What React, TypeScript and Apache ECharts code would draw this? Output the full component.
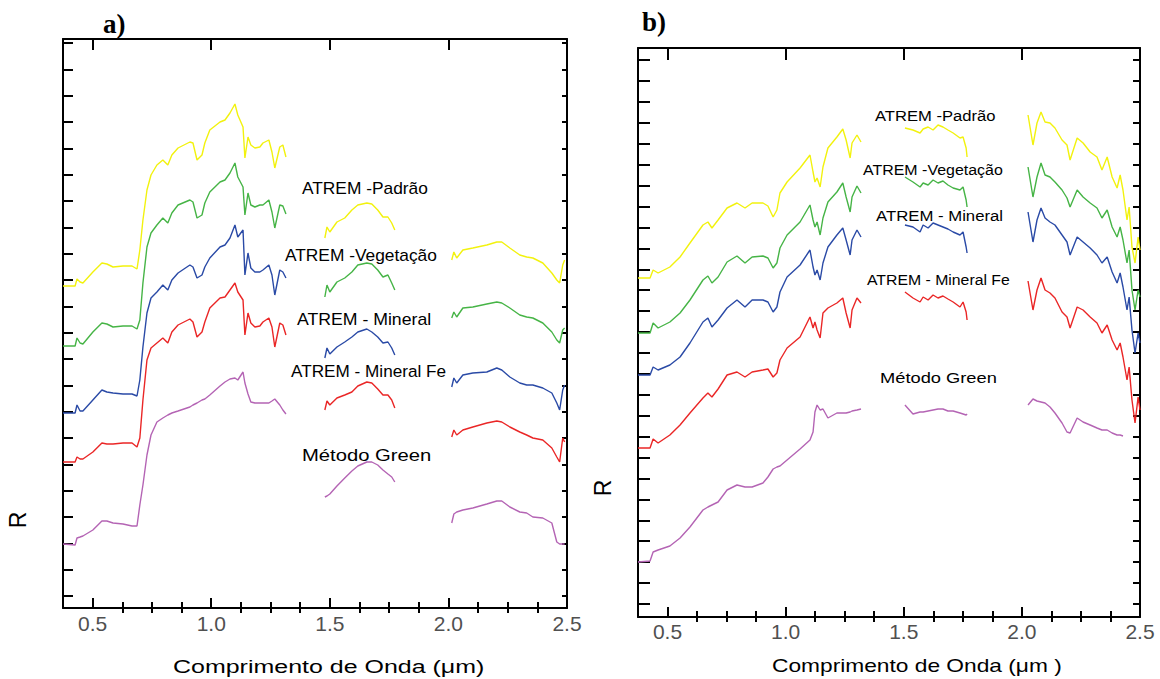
import React, { useEffect, useRef } from "react";
import * as echarts from "echarts";

// ---------- wavelength grids (µm), one per spectral window ----------
const waveA = [
  [0.375, 0.426, 0.434, 0.447, 0.459, 0.501, 0.539, 0.560, 0.586, 0.628, 0.666, 0.687, 0.699, 0.712, 0.729, 0.746, 0.771, 0.796, 0.817, 0.834, 0.860, 0.910, 0.923, 0.940, 0.961, 0.973, 0.994, 1.037, 1.058, 1.079, 1.100, 1.112, 1.134, 1.142, 1.155, 1.167, 1.184, 1.205, 1.218, 1.243, 1.256, 1.268, 1.289, 1.302, 1.315],
  [1.479, 1.488, 1.500, 1.530, 1.563, 1.593, 1.618, 1.656, 1.677, 1.702, 1.724, 1.745, 1.761, 1.774],
  [2.014, 2.023, 2.035, 2.061, 2.103, 2.162, 2.204, 2.225, 2.259, 2.301, 2.330, 2.356, 2.398, 2.436, 2.457, 2.469, 2.482, 2.490],
];
const waveB = [
  [0.375, 0.426, 0.439, 0.460, 0.510, 0.553, 0.595, 0.650, 0.671, 0.688, 0.714, 0.752, 0.794, 0.828, 0.858, 0.904, 0.925, 0.947, 0.963, 0.976, 1.006, 1.061, 1.103, 1.116, 1.124, 1.133, 1.146, 1.158, 1.179, 1.217, 1.242, 1.256, 1.273, 1.281, 1.302, 1.319],
  [1.505, 1.539, 1.569, 1.582, 1.603, 1.624, 1.645, 1.666, 1.687, 1.709, 1.738, 1.751, 1.764, 1.768],
  [2.026, 2.047, 2.064, 2.081, 2.098, 2.119, 2.140, 2.170, 2.191, 2.204, 2.234, 2.259, 2.289, 2.318, 2.339, 2.361, 2.382, 2.403, 2.416, 2.428, 2.445, 2.454, 2.466, 2.479, 2.492, 2.500],
];

// ---------- panel a) reflectance (offset, arbitrary units) ----------
const aPadrao = [
  [322, 322, 329, 326, 325, 336, 345, 344, 341, 342, 342, 339, 358, 388, 418, 433, 443, 448, 443, 453, 460, 466, 465, 448, 453, 465, 478, 486, 488, 495, 504, 493, 481, 450, 471, 463, 460, 461, 465, 468, 456, 440, 461, 463, 451],
  [370, 381, 376, 386, 390, 398, 403, 405, 404, 398, 391, 391, 385, 378],
  [348, 356, 350, 358, 360, 363, 366, 366, 360, 353, 351, 350, 345, 335, 328, 325, 343, 348],
];
const aVegetacao = [
  [262, 262, 270, 265, 264, 276, 285, 284, 281, 282, 282, 279, 288, 325, 361, 375, 383, 390, 385, 395, 403, 408, 406, 390, 393, 405, 416, 426, 428, 435, 445, 431, 421, 393, 415, 403, 401, 403, 403, 408, 396, 380, 403, 402, 394],
  [311, 323, 316, 326, 330, 336, 343, 345, 344, 338, 331, 333, 325, 318],
  [290, 296, 291, 300, 301, 304, 306, 305, 300, 293, 291, 290, 285, 276, 268, 265, 278, 280],
];
const aMineral = [
  [195, 195, 203, 197, 197, 208, 218, 216, 215, 214, 214, 212, 228, 261, 295, 310, 316, 323, 318, 328, 335, 343, 341, 330, 333, 341, 350, 361, 363, 370, 383, 371, 378, 333, 355, 340, 336, 336, 338, 343, 333, 313, 338, 336, 330],
  [250, 260, 254, 261, 266, 271, 276, 279, 276, 271, 265, 266, 260, 253],
  [221, 230, 225, 233, 235, 236, 240, 238, 231, 225, 223, 223, 220, 215, 205, 198, 218, 223],
];
const aMineralFe = [
  [146, 146, 151, 149, 149, 156, 165, 164, 164, 165, 165, 161, 170, 208, 248, 260, 265, 270, 265, 276, 283, 289, 286, 271, 276, 286, 300, 310, 311, 318, 325, 316, 308, 273, 295, 285, 281, 282, 286, 290, 281, 261, 285, 283, 273],
  [198, 207, 203, 210, 213, 216, 222, 226, 225, 219, 213, 213, 208, 200],
  [171, 178, 173, 178, 181, 185, 187, 186, 181, 176, 173, 170, 168, 160, 151, 146, 170, 166],
];
const aGreen = [
  [64, 63, 70, 71, 72, 78, 87, 87, 85, 84, 82, 82, 103, 123, 153, 173, 186, 190, 193, 195, 197, 201, 203, 205, 208, 209, 213, 222, 226, 229, 230, 228, 236, 225, 214, 206, 205, 205, 205, 205, 207, 209, 203, 198, 194],
  [111, 112, 114, 122, 130, 137, 142, 146, 146, 143, 138, 134, 131, 126],
  [85, 94, 96, 98, 100, 104, 107, 107, 101, 96, 95, 91, 90, 85, 66, 64, 64, 64],
];

// ---------- panel b) reflectance (offset, arbitrary units) ----------
const bPadrao = [
  [339, 339, 347, 344, 350, 360, 374, 392, 395, 389, 397, 409, 414, 409, 414, 414, 411, 400, 407, 424, 435, 449, 462, 445, 435, 439, 430, 450, 469, 480, 488, 477, 459, 474, 482, 475],
  [489, 487, 484, 488, 490, 487, 492, 490, 487, 484, 479, 480, 469, 460],
  [502, 472, 494, 505, 495, 494, 489, 477, 472, 457, 479, 474, 465, 460, 447, 460, 440, 429, 442, 427, 397, 410, 370, 354, 380, 367],
];
const bVegetacao = [
  [284, 284, 294, 289, 295, 304, 317, 337, 341, 334, 340, 355, 361, 354, 360, 361, 359, 349, 354, 369, 382, 395, 412, 397, 390, 395, 382, 399, 415, 425, 434, 420, 405, 420, 431, 424],
  [440, 435, 430, 434, 432, 437, 434, 436, 432, 429, 427, 430, 417, 410],
  [450, 420, 440, 454, 442, 440, 435, 427, 419, 410, 427, 420, 414, 409, 399, 407, 390, 380, 390, 377, 354, 367, 327, 307, 327, 320],
];
const bMineral = [
  [242, 242, 250, 247, 252, 260, 274, 295, 299, 290, 297, 309, 317, 310, 317, 317, 315, 305, 310, 325, 340, 352, 367, 350, 342, 347, 337, 354, 370, 382, 389, 377, 362, 377, 387, 380],
  [392, 390, 385, 392, 389, 394, 392, 390, 388, 385, 382, 385, 370, 364],
  [405, 375, 397, 409, 399, 395, 392, 382, 375, 362, 380, 375, 369, 362, 354, 360, 345, 334, 344, 330, 307, 320, 287, 264, 284, 274],
];
const bMineralFe = [
  [169, 169, 178, 174, 182, 192, 204, 219, 224, 220, 228, 242, 245, 240, 245, 247, 248, 240, 244, 257, 269, 280, 300, 289, 295, 287, 279, 304, 309, 314, 319, 304, 289, 307, 319, 314],
  [325, 319, 315, 320, 317, 322, 319, 321, 318, 315, 310, 315, 305, 297],
  [336, 307, 327, 339, 327, 324, 319, 305, 300, 289, 310, 307, 300, 294, 284, 292, 277, 267, 274, 260, 237, 250, 217, 194, 220, 207],
];
const bGreen = [
  [55, 56, 65, 67, 71, 79, 90, 107, 110, 112, 115, 127, 132, 130, 130, 134, 140, 148, 150, 151, 157, 168, 177, 185, 205, 212, 207, 208, 199, 204, 204, 204, 205, 206, 207, 208],
  [212, 203, 205, 205, 206, 207, 208, 208, 206, 206, 204, 203, 202, 203],
  [212, 218, 216, 215, 214, 210, 204, 194, 185, 184, 199, 195, 192, 189, 187, 187, 184, 182, 182, 181, null, null, null, null, null, null],
];

const seriesNames = ["ATREM -Padrão", "ATREM -Vegetação", "ATREM - Mineral", "ATREM - Mineral Fe", "Método Green"];
const seriesColors = ["#f2f20e", "#46b446", "#2a4aa6", "#ea2626", "#b464b4"];

const xMajorTicks = [0.5, 1.0, 1.5, 2.0, 2.5];
const xMinorTicks = [0.625, 0.75, 0.875, 1.125, 1.25, 1.375, 1.625, 1.75, 1.875, 2.125, 2.25, 2.375];
const yTicksA = Array.from({ length: 22 }, (_, k) => 12 + k * 26.33);
const yTicksB = Array.from({ length: 27 }, (_, k) => 13 + k * 20.92);

function build(waves: number[][], vals: (number | null)[][]) {
  const out: (number | null)[][] = [];
  waves.forEach((w, s) => {
    if (s > 0) {
      const prev = waves[s - 1];
      out.push([(prev[prev.length - 1] + w[0]) / 2, null]);
    }
    w.forEach((x, i) => out.push([x, vals[s][i]]));
  });
  return out;
}

const black = { color: "#000", width: 2 };

function xAxesFor(grid: number, majB: number, minB: number, majT: number, minT: number, margin: number) {
  const base = { type: "value", gridIndex: grid, min: 0.375, max: 2.5, splitLine: { show: false } };
  return [
    {
      ...base, position: "bottom",
      axisLine: { show: true, onZero: false, lineStyle: black },
      axisTick: { show: true, inside: true, length: majB, customValues: xMajorTicks, lineStyle: black },
      axisLabel: {
        show: true, customValues: xMajorTicks, showMaxLabel: true, showMinLabel: true,
        formatter: (v: number) => v.toFixed(1), margin,
        color: "#505050", fontSize: 21, fontFamily: "Liberation Sans",
      },
    },
    {
      ...base, position: "bottom",
      axisLine: { show: false },
      axisTick: { show: true, inside: true, length: minB, customValues: xMinorTicks, lineStyle: black },
      axisLabel: { show: false },
    },
    {
      ...base, position: "top",
      axisLine: { show: true, onZero: false, lineStyle: black },
      axisTick: { show: true, inside: true, length: majT, customValues: xMajorTicks, lineStyle: black },
      axisLabel: { show: false },
    },
    {
      ...base, position: "top",
      axisLine: { show: false },
      axisTick: { show: true, inside: true, length: minT, customValues: xMinorTicks, lineStyle: black },
      axisLabel: { show: false },
    },
  ];
}

function yAxesFor(grid: number, ticks: number[], lenL: number, lenR: number) {
  const base = { type: "value", gridIndex: grid, min: 0, max: 569, splitLine: { show: false }, axisLabel: { show: false } };
  return [
    { ...base, position: "left", axisLine: { show: true, onZero: false, lineStyle: black }, axisTick: { show: true, inside: true, length: lenL, customValues: ticks, lineStyle: black } },
    { ...base, position: "right", axisLine: { show: true, onZero: false, lineStyle: black }, axisTick: { show: true, inside: true, length: lenR, customValues: ticks, lineStyle: black } },
  ];
}

function label(text: string, x: number, y: number, size: number, scaleX = 1, extra: any = {}) {
  return {
    type: "text", x, y, scaleX, silent: true,
    style: {
      text, fill: "#000", fontSize: size, fontFamily: "Liberation Sans",
      align: "left", verticalAlign: "middle", ...extra,
    },
  };
}

export default function App() {
  const ref = useRef<HTMLDivElement>(null);
  useEffect(() => {
    if (!ref.current) return;
    const chart = echarts.init(ref.current, null, { renderer: "svg" });
    const panelA = [aPadrao, aVegetacao, aMineral, aMineralFe, aGreen];
    const panelB = [bPadrao, bVegetacao, bMineral, bMineralFe, bGreen];
    const series: any[] = [];
    panelA.forEach((vals, i) =>
      series.push({
        type: "line", name: seriesNames[i] + " (a)", xAxisIndex: 0, yAxisIndex: 0,
        data: build(waveA, vals), showSymbol: false, symbol: "none", connectNulls: false, silent: true,
        lineStyle: { color: seriesColors[i], width: 1.4 }, itemStyle: { color: seriesColors[i] },
      })
    );
    panelB.forEach((vals, i) =>
      series.push({
        type: "line", name: seriesNames[i] + " (b)", xAxisIndex: 4, yAxisIndex: 2,
        data: build(waveB, vals), showSymbol: false, symbol: "none", connectNulls: false, silent: true,
        lineStyle: { color: seriesColors[i], width: 1.4 }, itemStyle: { color: seriesColors[i] },
      })
    );

    chart.setOption({
      animation: false,
      backgroundColor: "#fff",
      grid: [
        { left: 63, top: 39, width: 504, height: 569, outerBoundsMode: "none" },
        { left: 638, top: 48, width: 502, height: 569, outerBoundsMode: "none" },
      ],
      xAxis: [...xAxesFor(0, 10, 6, 11, 5, 5), ...xAxesFor(1, 10, 6, 12, 5, 4)],
      yAxis: [...yAxesFor(0, yTicksA, 10, 5), ...yAxesFor(1, yTicksB, 12, 7)],
      series,
      graphic: [
        label("a)", 103, 24, 27, 1, { fontFamily: "Liberation Serif", fontWeight: "bold" }),
        label("b)", 642, 22, 27, 1, { fontFamily: "Liberation Serif", fontWeight: "bold" }),
        label("Comprimento de Onda (μm)", 173, 667, 18.5, 1.35),
        label("Comprimento de Onda (μm )", 772, 666, 17.5, 1.3),
        { ...label("R", 18, 520, 23, 1, { align: "center" }), rotation: Math.PI / 2 },
        { ...label("R", 603, 488, 23, 1, { align: "center" }), rotation: Math.PI / 2 },
        label(seriesNames[0], 302, 188, 17, 1.02),
        label(seriesNames[1], 285, 255, 17, 1.02),
        label(seriesNames[2], 297, 319, 17, 1.04),
        label(seriesNames[3], 291, 372, 17, 1.01),
        label(seriesNames[4], 302, 455, 17, 1.19),
        label(seriesNames[0], 875, 115, 15.5, 1.07),
        label(seriesNames[1], 863, 170, 15.5, 1.03),
        label(seriesNames[2], 876, 215, 15.5, 1.08),
        label(seriesNames[3], 867, 280, 15.5, 1.02),
        label(seriesNames[4], 880, 378, 15.5, 1.18),
      ],
    });
    return () => chart.dispose();
  }, []);
  return <div ref={ref} style={{ position: "fixed", left: 0, top: 0, width: 1160, height: 679, background: "#fff" }} />;
}
